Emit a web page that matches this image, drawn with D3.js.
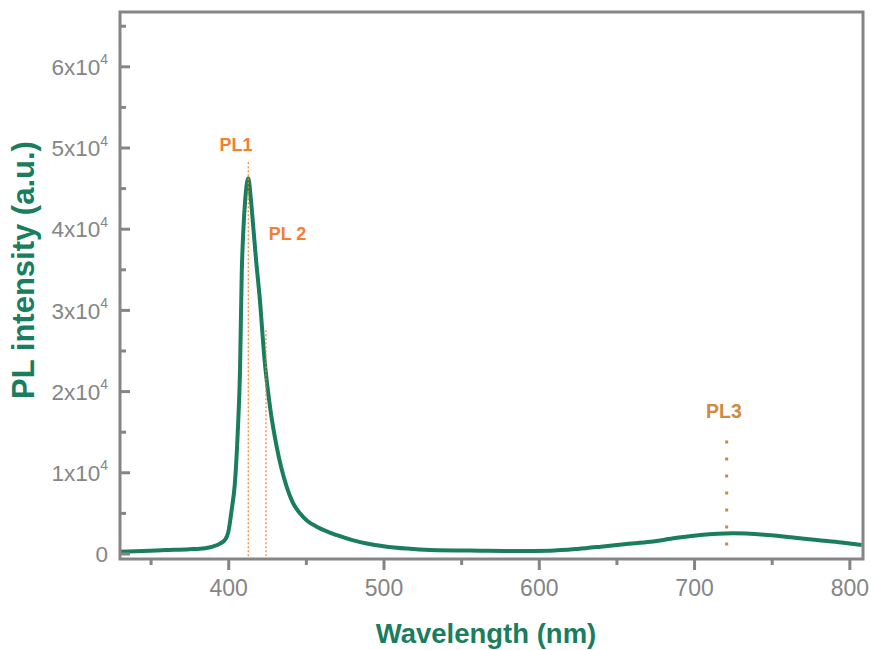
<!DOCTYPE html>
<html>
<head>
<meta charset="utf-8">
<script src="https://cdn.jsdelivr.net/npm/d3@7"></script>
<style>
  html, body { margin: 0; padding: 0; background: #fff; }
  svg { display: block; }
</style>
</head>
<body>
<svg id="chart" width="871" height="650"></svg>
<script>
// ---------- data ----------
const wavelength = [330, 345, 360, 375, 385, 390, 395, 398, 400, 402.2, 404.3, 406.1, 407.6, 408.7, 409.8, 410.8, 412.9,
  414.5, 416.1, 418, 420.4, 423.2, 426.9, 431.2, 437.6, 441.5, 446.2, 451, 457, 470, 480, 490, 500, 515, 530, 562, 588,
  607, 625, 640, 655, 672, 688, 704, 725, 747, 765, 779, 795, 808];
const intensity = [200, 320, 420, 520, 650, 850, 1250, 1700, 2600, 5360, 8680, 14800, 22600, 34500, 40000, 43170, 46200,
  43800, 40250, 36000, 31220, 24240, 18080, 13150, 8230, 6300, 4950, 4000, 3300, 2250, 1650, 1200, 900, 600, 430, 345, 310,
  345, 560, 840, 1150, 1450, 1900, 2280, 2490, 2280, 1950, 1660, 1350, 1050];

const xTicks = [400, 500, 600, 700, 800];
const xMinorTicks = [350, 450, 550, 650, 750];
const yTicks = [0, 10000, 20000, 30000, 40000, 50000, 60000];
const yMinorTicks = [5000, 15000, 25000, 35000, 45000, 55000, 65000];

const peakLabels = ["PL1", "PL 2", "PL3"];
const peakWavelengths = [412.9, 424.3, 721];
const peakLineTop = [48200, 27500, 13900];
const peakLineBottom = [-680, -680, 950];

// ---------- layout ----------
const svg = d3.select("#chart");
const mLeft = 120, mRight = 863, mTop = 12, mBottom = 559;
const x = d3.scaleLinear().domain([330.3, 808.8]).range([mLeft, mRight]);
const y = d3.scaleLinear().domain([-680, 66690]).range([mBottom, mTop]);

const gray = "#858585";
const green = "#1a7d5d";
const font = "'Liberation Sans', Arial, sans-serif";

// curve
const line = d3.line().x((d, i) => x(wavelength[i])).y(d => y(d)).curve(d3.curveMonotoneX);
svg.append("path")
  .datum(intensity)
  .attr("d", line)
  .attr("fill", "none")
  .attr("stroke", green)
  .attr("stroke-width", 4)
  .attr("stroke-linejoin", "round");

// peak marker lines
const lineStyles = [
  {color: "#f2802f", dash: "2,2", w: 1.2},
  {color: "#f2802f", dash: "2,2", w: 1.2},
  {color: "#c98a40", dash: "3,14", w: 3}
];
peakWavelengths.forEach((wl, i) => {
  svg.append("line")
    .attr("x1", x(wl)).attr("x2", x(wl))
    .attr("y1", y(peakLineTop[i])).attr("y2", y(peakLineBottom[i]))
    .attr("stroke", lineStyles[i].color)
    .attr("stroke-width", lineStyles[i].w)
    .attr("stroke-dasharray", lineStyles[i].dash);
});

// peak labels
const labelPos = [
  {x: 236, y: 151, size: 18, color: "#f2802f"},
  {x: 287.5, y: 240, size: 18, color: "#f2802f"},
  {x: 724, y: 418, size: 19.5, color: "#d08b3c"}
];
peakLabels.forEach((t, i) => {
  svg.append("text")
    .attr("x", labelPos[i].x).attr("y", labelPos[i].y)
    .attr("text-anchor", "middle")
    .attr("font-family", font)
    .attr("font-weight", "bold")
    .attr("font-size", labelPos[i].size)
    .attr("fill", labelPos[i].color)
    .text(t);
});

// y axis (ticks inward)
const yAxis = svg.append("g").attr("transform", `translate(${mLeft},0)`)
  .call(d3.axisLeft(y).tickValues(yTicks).tickSizeInner(-10).tickSizeOuter(0).tickPadding(12));
yAxis.select(".domain").remove();
yAxis.selectAll(".tick line").attr("stroke", gray).attr("stroke-width", 3);
yAxis.selectAll(".tick text")
  .attr("font-family", font).attr("font-size", 22.5).attr("fill", gray)
  .attr("dy", "0.36em")
  .each(function(d) {
    const t = d3.select(this);
    t.text(null);
    if (d === 0) { t.text("0"); return; }
    t.append("tspan").text((d / 10000) + "x10");
    t.append("tspan").attr("font-size", 14).attr("dy", "-0.75em").text("4");
  });

const yMinor = svg.append("g").attr("transform", `translate(${mLeft},0)`)
  .call(d3.axisLeft(y).tickValues(yMinorTicks).tickSizeInner(-6).tickSizeOuter(0).tickFormat(""));
yMinor.select(".domain").remove();
yMinor.selectAll(".tick line").attr("stroke", gray).attr("stroke-width", 3);

// x axis (ticks outward)
const xAxis = svg.append("g").attr("transform", `translate(0,${mBottom})`)
  .call(d3.axisBottom(x).tickValues(xTicks).tickSizeInner(11).tickSizeOuter(0).tickPadding(10));
xAxis.select(".domain").remove();
xAxis.selectAll(".tick line").attr("stroke", gray).attr("stroke-width", 3);
xAxis.selectAll(".tick text")
  .attr("font-family", font).attr("font-size", 23).attr("fill", gray);

const xMinor = svg.append("g").attr("transform", `translate(0,${mBottom})`)
  .call(d3.axisBottom(x).tickValues(xMinorTicks).tickSizeInner(6).tickSizeOuter(0).tickFormat(""));
xMinor.select(".domain").remove();
xMinor.selectAll(".tick line").attr("stroke", gray).attr("stroke-width", 3);

// frame
svg.append("rect")
  .attr("x", mLeft).attr("y", mTop)
  .attr("width", mRight - mLeft).attr("height", mBottom - mTop)
  .attr("fill", "none").attr("stroke", gray).attr("stroke-width", 3);

// axis titles
svg.append("text")
  .attr("x", 486).attr("y", 643)
  .attr("text-anchor", "middle")
  .attr("font-family", font).attr("font-weight", "bold").attr("font-size", 27.5)
  .attr("fill", green)
  .text("Wavelength (nm)");

svg.append("text")
  .attr("transform", "translate(34,270) rotate(-90)")
  .attr("text-anchor", "middle")
  .attr("font-family", font).attr("font-weight", "bold").attr("font-size", 31)
  .attr("fill", green)
  .text("PL intensity (a.u.)");
</script>
</body>
</html>
